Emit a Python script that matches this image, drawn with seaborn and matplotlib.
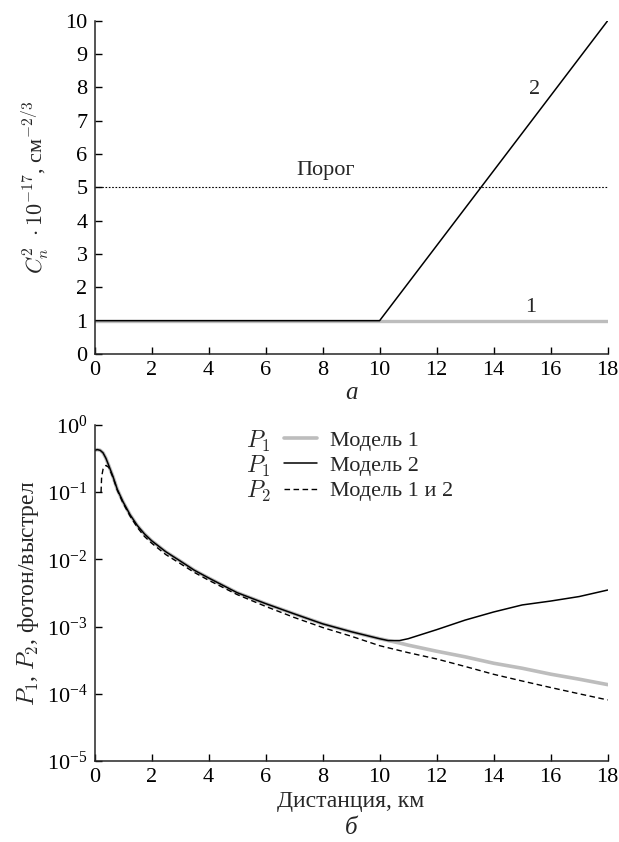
import numpy as np
import pandas as pd
import matplotlib
matplotlib.use("Agg")
import matplotlib.pyplot as plt
import seaborn as sns
from matplotlib.lines import Line2D

sns.set_theme(style="ticks")
plt.rcParams['font.family'] = ['Liberation Serif', 'DejaVu Serif']
plt.rcParams['mathtext.fontset'] = 'cm'
plt.rcParams['axes.linewidth'] = 1.1
plt.rcParams['xtick.direction'] = 'in'
plt.rcParams['ytick.direction'] = 'in'

# ---------------- Data: panel a ----------------
cn2_dist = [0, 10, 18]
cn2_model1 = [1, 1, 1]
cn2_model2 = [1, 1, 10]
threshold = 5

# ---------------- Data: panel b ----------------
dist_common = [0, 0.1, 0.2, 0.3, 0.4, 0.5, 0.65, 0.8, 1.0, 1.25, 1.5, 1.75, 2.0, 2.5,
               3.0, 3.5, 4.0, 5.0, 6.0, 7.0, 8.0, 9.0, 10.0, 10.3]
p1_common = [0.42, 0.43, 0.42, 0.385, 0.32, 0.25, 0.17, 0.11, 0.072, 0.046, 0.032,
             0.024, 0.019, 0.013, 0.0095, 0.0069, 0.0053, 0.0032, 0.0022, 0.00155,
             0.00110, 0.00084, 0.00066, 0.00062]
dist_tail = [10.7, 11, 12, 13, 14, 15, 16, 17, 18]
p1_model1_tail = [0.00057, 0.00053, 0.00043, 0.000355, 0.000285, 0.00024, 0.000196,
                  0.000165, 0.000137]
p1_model2_tail = [0.00062, 0.00066, 0.00090, 0.00125, 0.00165, 0.0021, 0.0024,
                  0.0028, 0.0035]

dist_p2 = [0.23, 0.25, 0.3, 0.4, 0.5, 0.65, 0.8, 1.0, 1.25, 1.5, 1.75, 2.0, 2.5,
           3.0, 3.5, 4.0, 5.0, 6.0, 7.0, 8.0, 9.0, 10.0, 11, 12, 13, 14, 15, 16,
           17, 18]
p2_model12 = [0.10, 0.17, 0.22, 0.25, 0.235, 0.165, 0.107, 0.069, 0.044, 0.030,
              0.022, 0.0175, 0.0118, 0.0087, 0.0064, 0.0049, 0.0030, 0.0020,
              0.00137, 0.00097, 0.00072, 0.00052, 0.00041, 0.00033, 0.000255,
              0.000195, 0.000155, 0.000124, 0.000100, 0.000081]

legend_labels = ["Модель 1", "Модель 2", "Модель 1 и 2"]
legend_p = ["$P_1$", "$P_1$", "$P_2$"]

GRAY = "#bdbdbd"
FS = 16

fig = plt.figure(figsize=(6.19, 8.42), dpi=100)
W, H = 619, 842
def ax_rect(l, r, t, b):
    return [l / W, 1 - b / H, (r - l) / W, (b - t) / H]

# ---------------- panel a ----------------
ax1 = fig.add_axes(ax_rect(94.5, 607.7, 20.7, 354))
df1 = pd.DataFrame({"x": cn2_dist, "y": cn2_model1})
df2 = pd.DataFrame({"x": cn2_dist, "y": cn2_model2})
sns.lineplot(data=df1, x="x", y="y", ax=ax1, color=GRAY, lw=2.4)
sns.lineplot(data=df2, x="x", y="y", ax=ax1, color="black", lw=1.1)
ax1.axhline(threshold, color="black", lw=0.8, ls=(0, (1.5, 1.5)))
ax1.set_xlim(0, 18)
ax1.set_ylim(0, 10)
ax1.set_xticks(range(0, 19, 2))
ax1.set_yticks(range(0, 11))
ax1.tick_params(labelsize=FS, length=5, width=1.0, colors="black", pad=5)
ax1.set_xlabel("")
ax1.set_ylabel(r"$C_n^2\ \cdot 10^{-17}$, см$^{-2/3}$", fontsize=FS, labelpad=10)
for s in ["top", "right"]:
    ax1.spines[s].set_visible(False)
ax1.text(8.1, 5.5, "Порог", fontsize=FS, ha="center", va="center")
ax1.text(15.45, 7.95, "2", fontsize=FS, ha="center", va="center")
ax1.text(15.3, 1.4, "1", fontsize=FS, ha="center", va="center")
fig.text(351 / W, 1 - 393 / H, "а", fontsize=18, style="italic", ha="center", va="center")

# ---------------- panel b ----------------
ax2 = fig.add_axes(ax_rect(94.5, 607.7, 425, 761))
m1 = pd.DataFrame({"x": dist_common + dist_tail, "y": p1_common + p1_model1_tail})
m2 = pd.DataFrame({"x": dist_common + dist_tail, "y": p1_common + p1_model2_tail})
p2 = pd.DataFrame({"x": dist_p2, "y": p2_model12})
sns.lineplot(data=m1, x="x", y="y", ax=ax2, color=GRAY, lw=2.6, sort=False)
sns.lineplot(data=m2, x="x", y="y", ax=ax2, color="black", lw=1.1, sort=False)
sns.lineplot(data=p2, x="x", y="y", ax=ax2, color="black", lw=1.0, ls=(0, (4, 2.5)), sort=False)
ax2.set_yscale("log")
ax2.set_xlim(0, 18)
ax2.set_ylim(1e-5, 1)
ax2.set_xticks(range(0, 19, 2))
ax2.set_yticks([1, 1e-1, 1e-2, 1e-3, 1e-4, 1e-5])
ax2.yaxis.set_minor_locator(matplotlib.ticker.NullLocator())
ax2.tick_params(labelsize=FS, length=5, width=1.0, colors="black", pad=5)
ax2.set_xlabel("Дистанция, км", fontsize=17, labelpad=3)
ax2.set_ylabel(r"$P_1$, $P_2$, фотон/выстрел", fontsize=17, labelpad=4)
for s in ["top", "right"]:
    ax2.spines[s].set_visible(False)
fig.text(351 / W, 1 - 828 / H, "б", fontsize=18, style="italic", ha="center", va="center")

handles = [Line2D([], [], color=GRAY, lw=2.6),
           Line2D([], [], color="black", lw=1.1),
           Line2D([], [], color="black", lw=1.0, ls=(0, (4, 2.5)))]
leg = ax2.legend(handles, legend_labels, loc="upper left",
                 bbox_to_anchor=(0.37, 0.985), frameon=False, fontsize=FS,
                 handlelength=1.45, handletextpad=0.6, labelspacing=0.22,
                 borderaxespad=0, borderpad=0)
fig.canvas.draw()
inv = fig.transFigure.inverted()
for txt, h, p in zip(leg.get_texts(), leg.legend_handles, legend_p):
    tb = txt.get_window_extent()
    hb = h.get_window_extent()
    x0, _ = inv.transform((hb.x0 - 14, 0))
    _, yc = inv.transform((0, (tb.y0 + tb.y1) / 2))
    fig.text(x0, yc, p, fontsize=17, ha="right", va="center")

fig.savefig("out.png", dpi=100)
